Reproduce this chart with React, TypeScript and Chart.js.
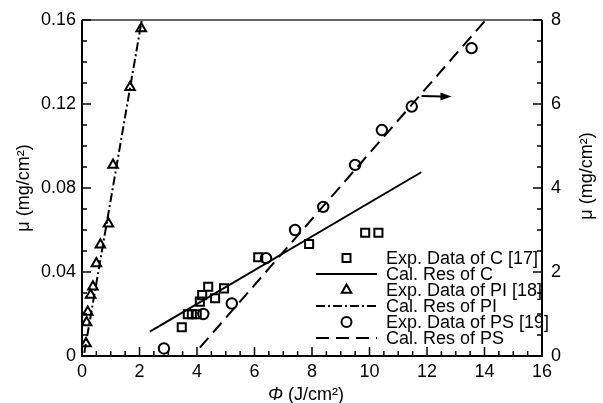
import React, { useEffect, useRef } from "react";
import { Chart, registerables } from "chart.js";
Chart.register(...registerables);

// ---- data ----
const cPhi = [3.47, 3.68, 3.82, 3.99, 4.1, 4.18, 4.39, 4.63, 4.94, 6.13, 7.9, 9.85, 10.31];
const cMu = [0.0137, 0.0199, 0.0199, 0.0199, 0.0259, 0.029, 0.033, 0.0275, 0.0322, 0.047, 0.0533, 0.0587, 0.0587];
const cLinePhi = [2.36, 11.8];
const cLineMu = [0.0116, 0.0875];

const piPhi = [0.14, 0.16, 0.2, 0.3, 0.38, 0.5, 0.64, 0.92, 1.08, 1.67, 2.06];
const piMu = [0.006, 0.016, 0.021, 0.029, 0.033, 0.044, 0.053, 0.063, 0.091, 0.128, 0.156];
const piLinePhi = [0.08, 2.08];
const piLineMu = [0.0015, 0.16];

const psPhi = [2.85, 4.22, 5.21, 6.4, 7.41, 8.39, 9.5, 10.43, 11.47, 13.55];
const psMu = [0.18, 1.0, 1.25, 2.33, 3.0, 3.55, 4.55, 5.38, 5.94, 7.33];
const psLinePhi = [4.1, 14.04];
const psLineMu = [0.2, 8.0];

const arrowPhi = [11.81, 12.85];
const arrowMu = [6.19, 6.18];

const legendLabels = [
  "Exp. Data of C [17]",
  "Cal. Res of C",
  "Exp. Data of PI [18]",
  "Cal. Res of PI",
  "Exp. Data of PS [19]",
  "Cal. Res of PS",
];

const FONT = "'Liberation Sans', Arial, sans-serif";
const DASH_DOT = [9, 3, 2, 3];
const DASHED = [13, 7];

const pts = (xs: number[], ys: number[]) => xs.map((x, i) => ({ x, y: ys[i] }));

function drawSymbol(ctx: CanvasRenderingContext2D, kind: string, x: number, y: number) {
  ctx.save();
  ctx.strokeStyle = "#000";
  ctx.lineWidth = 2;
  ctx.beginPath();
  if (kind === "rect") {
    ctx.rect(x - 4, y - 4, 8, 8);
  } else if (kind === "triangle") {
    const r = 5.5;
    ctx.moveTo(x, y - r);
    ctx.lineTo(x + r * 0.866, y + r * 0.5);
    ctx.lineTo(x - r * 0.866, y + r * 0.5);
    ctx.closePath();
  } else {
    ctx.arc(x, y, 5, 0, Math.PI * 2);
  }
  ctx.stroke();
  ctx.restore();
}

const framePlugin = {
  id: "frameAndDecor",
  afterDraw(chart: any) {
    const ctx: CanvasRenderingContext2D = chart.ctx;
    const { left, right, top, bottom } = chart.chartArea;
    const xs = chart.scales.x;
    const ys = chart.scales.y;
    const y2 = chart.scales.y2;
    ctx.save();
    // frame
    ctx.strokeStyle = "#000";
    ctx.lineWidth = 2;
    ctx.beginPath();
    ctx.moveTo(left, top);
    ctx.lineTo(left, bottom);
    ctx.lineTo(right, bottom);
    ctx.lineTo(right, top);
    ctx.stroke();
    ctx.lineWidth = 1.5;
    ctx.strokeStyle = "#333";
    ctx.beginPath();
    ctx.moveTo(left, top);
    ctx.lineTo(right, top);
    ctx.stroke();

    // ticks (inward)
    ctx.strokeStyle = "#000";
    ctx.lineWidth = 1.5;
    const tick = (x1: number, y1: number, x2: number, y2_: number) => {
      ctx.beginPath();
      ctx.moveTo(x1, y1);
      ctx.lineTo(x2, y2_);
      ctx.stroke();
    };
    for (let i = 0; i <= 32; i++) {
      const px = xs.getPixelForValue(i * 0.5);
      const len = i % 4 === 0 ? 9 : 5;
      tick(px, bottom, px, bottom - len);
    }
    for (let i = 0; i <= 16; i++) {
      const py = ys.getPixelForValue(i * 0.01);
      const len = i % 4 === 0 ? 9 : 5;
      tick(left, py, left + len, py);
    }
    for (let i = 0; i <= 16; i++) {
      const py = y2.getPixelForValue(i * 0.5);
      const len = i % 4 === 0 ? 9 : 5;
      tick(right, py, right - len, py);
    }

    // arrow (PS data refer to the right axis)
    const ax1 = xs.getPixelForValue(arrowPhi[0]);
    const ay1 = y2.getPixelForValue(arrowMu[0]);
    const ax2 = xs.getPixelForValue(arrowPhi[1]);
    const ay2 = y2.getPixelForValue(arrowMu[1]);
    ctx.lineWidth = 2;
    tick(ax1, ay1, ax2 - 8, ay2);
    ctx.fillStyle = "#000";
    ctx.beginPath();
    ctx.moveTo(ax2, ay2);
    ctx.lineTo(ax2 - 11, ay2 - 4);
    ctx.lineTo(ax2 - 11, ay2 + 4);
    ctx.closePath();
    ctx.fill();

    // axis titles
    ctx.fillStyle = "#000";
    ctx.font = `18px ${FONT}`;
    ctx.textAlign = "center";
    ctx.textBaseline = "middle";
    const vTitle = "\u03bc (mg/cm\u00b2)";
    ctx.save();
    ctx.translate(24, (top + bottom) / 2);
    ctx.rotate(-Math.PI / 2);
    ctx.fillText(vTitle, 0, 0);
    ctx.restore();
    ctx.save();
    ctx.translate(587, (top + bottom) / 2 - 12);
    ctx.rotate(-Math.PI / 2);
    ctx.fillText(vTitle, 0, 0);
    ctx.restore();
    // bottom title with italic Phi
    const phi = "\u03a6";
    const rest = " (J/cm\u00b2)";
    ctx.font = `italic 18px ${FONT}`;
    const w1 = ctx.measureText(phi).width;
    ctx.font = `18px ${FONT}`;
    const w2 = ctx.measureText(rest).width;
    const cx = (left + right) / 2 - 6;
    const start = cx - (w1 + w2) / 2;
    ctx.textAlign = "left";
    ctx.font = `italic 18px ${FONT}`;
    ctx.fillText(phi, start, 395);
    ctx.font = `18px ${FONT}`;
    ctx.fillText(rest, start + w1, 395);

    // legend
    const lineX1 = left + 234;
    const lineX2 = left + 295;
    const symX = (lineX1 + lineX2) / 2;
    const textX = left + 304;
    const rowY0 = 258;
    const rowH = 16;
    const kinds = ["rect", "solid", "triangle", "dashdot", "circle", "dashed"];
    ctx.font = `18px ${FONT}`;
    ctx.textAlign = "left";
    ctx.textBaseline = "middle";
    kinds.forEach((k, i) => {
      const y = rowY0 + i * rowH;
      if (k === "rect" || k === "triangle" || k === "circle") {
        drawSymbol(ctx, k, symX, y);
      } else {
        ctx.save();
        ctx.strokeStyle = "#000";
        ctx.lineWidth = 2;
        ctx.setLineDash(k === "dashdot" ? DASH_DOT : k === "dashed" ? DASHED : []);
        ctx.beginPath();
        ctx.moveTo(lineX1, y);
        ctx.lineTo(lineX2, y);
        ctx.stroke();
        ctx.restore();
      }
      ctx.fillStyle = "#000";
      ctx.fillText(legendLabels[i], textX, y + 1);
    });
    ctx.restore();
  },
};

export default function App() {
  const ref = useRef<HTMLCanvasElement | null>(null);
  useEffect(() => {
    if (!ref.current) return;
    Chart.defaults.font.family = FONT;
    const scatterBase = {
      type: "scatter" as const,
      showLine: false,
      borderColor: "#000",
      backgroundColor: "rgba(0,0,0,0)",
      pointBorderWidth: 2,
      pointBorderColor: "#000",
      pointBackgroundColor: "rgba(0,0,0,0)",
    };
    const lineBase = {
      type: "line" as const,
      borderColor: "#000",
      borderWidth: 2,
      pointRadius: 0,
      fill: false,
      tension: 0,
    };
    const chart = new Chart(ref.current, {
      type: "scatter",
      data: {
        datasets: [
          { ...lineBase, label: "Cal. Res of C", data: pts(cLinePhi, cLineMu), yAxisID: "y" },
          { ...lineBase, label: "Cal. Res of PI", data: pts(piLinePhi, piLineMu), yAxisID: "y", borderDash: DASH_DOT },
          { ...lineBase, label: "Cal. Res of PS", data: pts(psLinePhi, psLineMu), yAxisID: "y2", borderDash: DASHED },
          { ...scatterBase, label: "Exp. Data of C [17]", data: pts(cPhi, cMu), yAxisID: "y", pointStyle: "rect", pointRadius: 5.7 },
          { ...scatterBase, label: "Exp. Data of PI [18]", data: pts(piPhi, piMu), yAxisID: "y", pointStyle: "triangle", pointRadius: 5.5 },
          { ...scatterBase, label: "Exp. Data of PS [19]", data: pts(psPhi, psMu), yAxisID: "y2", pointStyle: "circle", pointRadius: 5.2 },
        ] as any,
      },
      options: {
        animation: false,
        responsive: false,
        devicePixelRatio: 1,
        layout: { padding: { top: 20, left: 0, right: 0, bottom: 0 } },
        plugins: { legend: { display: false }, tooltip: { enabled: false } },
        scales: {
          x: {
            type: "linear",
            min: 0,
            max: 16,
            grid: { display: false, drawTicks: false },
            border: { display: false },
            ticks: { stepSize: 2, color: "#000", font: { size: 18 }, padding: 5, maxRotation: 0 },
            afterFit: (s: any) => { s.height = 47; },
          },
          y: {
            type: "linear",
            position: "left",
            min: 0,
            max: 0.16,
            grid: { display: false, drawTicks: false },
            border: { display: false },
            ticks: {
              stepSize: 0.04,
              color: "#000",
              font: { size: 18 },
              padding: 6,
              callback: (v: any) => (Math.abs(v) < 1e-9 ? "0" : Number(v).toFixed(2)),
            },
            afterFit: (s: any) => { s.width = 82; },
          },
          y2: {
            type: "linear",
            position: "right",
            min: 0,
            max: 8,
            grid: { display: false, drawTicks: false },
            border: { display: false },
            ticks: { stepSize: 2, color: "#000", font: { size: 18 }, padding: 9 },
            afterFit: (s: any) => { s.width = 61; },
          },
        },
      } as any,
      plugins: [framePlugin],
    });
    return () => chart.destroy();
  }, []);
  return (
    <div style={{ position: "fixed", left: 0, top: 0, width: 603, height: 403, background: "#fff" }}>
      <canvas ref={ref} width={603} height={403} style={{ display: "block" }} />
    </div>
  );
}
